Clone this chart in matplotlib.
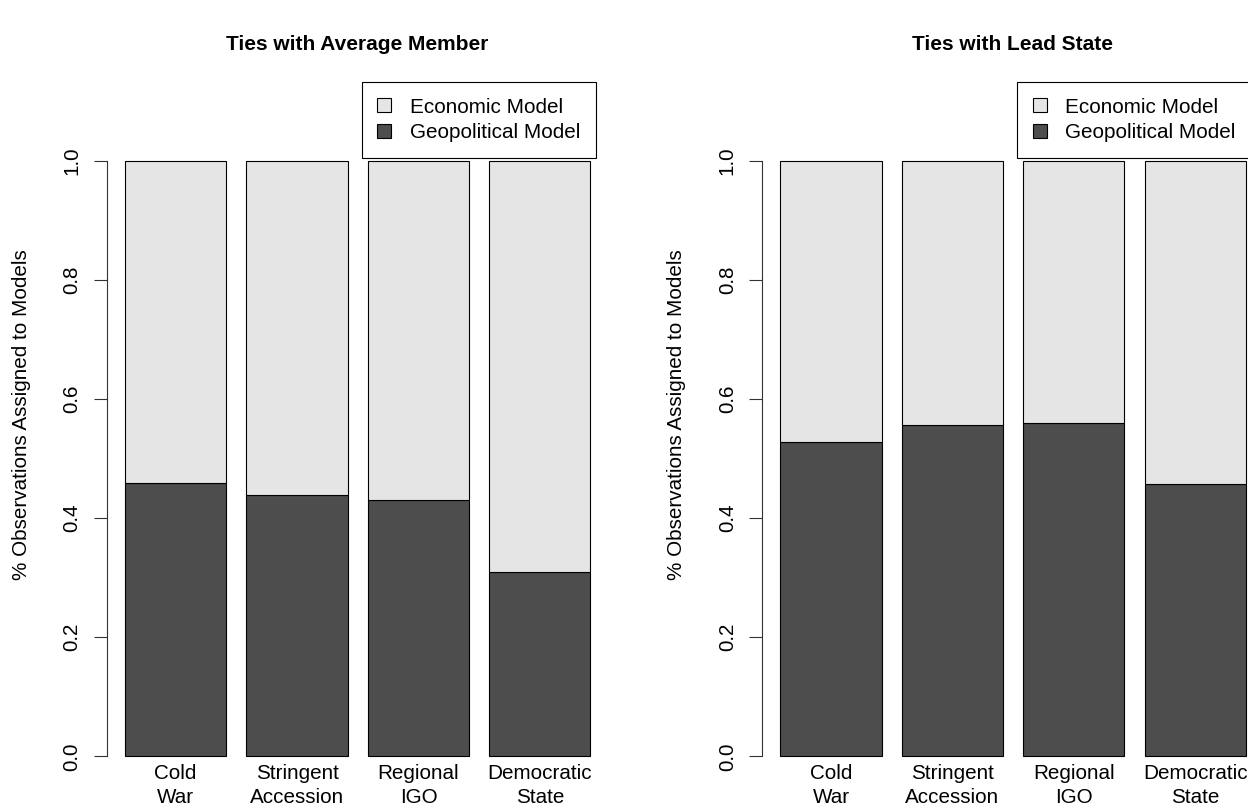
import numpy as np
import matplotlib
matplotlib.use("Agg")
import matplotlib.pyplot as plt

plt.rcParams['font.family'] = ['Liberation Sans', 'DejaVu Sans']

# data
categories = ["Cold\nWar", "Stringent\nAccession", "Regional\nIGO", "Democratic\nState"]
geo_avg = [0.459, 0.439, 0.430, 0.310]
geo_lead = [0.527, 0.557, 0.560, 0.457]
titles = ["Ties with Average Member", "Ties with Lead State"]
legend_labels = ["Economic Model", "Geopolitical Model"]

dark = "#4D4D4D"
light = "#E5E5E5"
W, H = 1248, 805
fs = 14.9

fig = plt.figure(figsize=(W / 100, H / 100), dpi=100)

# R barplot geometry: width 1, space 0.2
x = 0.2 + np.arange(len(categories)) * 1.2 + 0.5
lefts = [106.5, 761.8]

for i, (geo, title) in enumerate(zip([geo_avg, geo_lead], titles)):
    ax = fig.add_axes([lefts[i] / W, (H - 780.2) / H, 502.5 / W, 643.3 / H])
    geo = np.array(geo)
    econ = 1 - geo
    b1 = ax.bar(x, geo, width=1, color=dark, edgecolor="black", linewidth=0.8)
    b2 = ax.bar(x, econ, width=1, bottom=geo, color=light, edgecolor="black", linewidth=0.8)
    ax.set_xlim(0.016, 4.984)
    ax.set_ylim(-0.04, 1.04)
    for s in ["top", "right", "bottom"]:
        ax.spines[s].set_visible(False)
    ax.spines["left"].set_bounds(0, 1)
    ax.spines["left"].set_linewidth(0.8)
    ax.spines["left"].set_color("#333333")
    ticks = np.arange(0, 1.01, 0.2)
    ax.set_yticks(ticks)
    ax.set_yticklabels([f"{v:.1f}" for v in ticks], rotation=90, va="center", fontsize=fs)
    ax.tick_params(axis="y", length=9.5, width=0.8, pad=8.5, color="#333333")
    ax.set_xticks(x)
    ax.set_xticklabels(categories, fontsize=fs, linespacing=1.35)
    ax.tick_params(axis="x", length=0, pad=-11.7)
    ax.set_ylabel("% Observations Assigned to Models", fontsize=fs)
    ax.yaxis.set_label_coords(-0.150, 0.569)
    ax.set_facecolor("none")
    fig.text((lefts[i] + 251) / W, 1 - 45 / H, title, ha="center", va="center",
             fontsize=15, fontweight="bold")
    leg = ax.legend([b2, b1], legend_labels, loc="upper right",
                    bbox_to_anchor=((lefts[i] + 489.5) / W, 1 - 82 / H),
                    bbox_transform=fig.transFigure, fontsize=fs,
                    handlelength=0.68, handleheight=0.68, handletextpad=0.9,
                    borderpad=0.75, labelspacing=0.33, borderaxespad=0,
                    fancybox=False, framealpha=1, edgecolor="black")
    leg.get_frame().set_linewidth(0.8)

fig.savefig("out.png", dpi=100)
